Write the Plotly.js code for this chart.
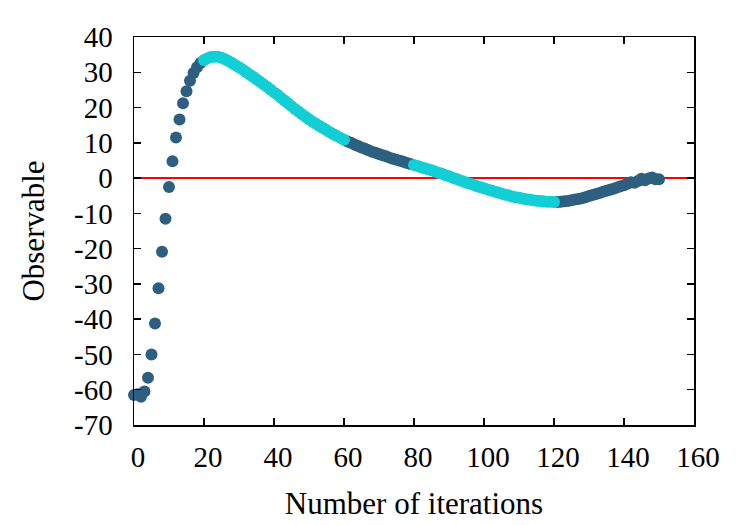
<!DOCTYPE html>
<html>
<head>
<meta charset="utf-8">
<script src="https://cdn.plot.ly/plotly-3.0.1.min.js"></script>
<style>html,body{margin:0;padding:0;background:#fff;}#chart{width:750px;height:525px;}</style>
</head>
<body>
<div id="chart"></div>
<script>
// Observable value, one per iteration 0..150
const observable = [
  -61.5, -61.3, -62.0, -60.5, -56.6, -50.0, -41.2, -31.2, -20.9, -11.5,
  -2.5, 4.8, 11.5, 16.6, 21.2, 24.6, 27.6, 29.8, 31.4, 32.6,
  33.5, 34.0, 34.3, 34.4, 34.4, 34.1, 33.7, 33.2, 32.6, 32.0,
  31.4, 30.8, 30.1, 29.4, 28.7, 28.0, 27.3, 26.6, 25.9, 25.1,
  24.3, 23.6, 22.8, 22.0, 21.2, 20.4, 19.6, 18.9, 18.1, 17.4,
  16.7, 16.0, 15.4, 14.8, 14.2, 13.6, 13.0, 12.4, 11.9, 11.4,
  10.9, 10.4, 10.0, 9.5, 9.1, 8.7, 8.3, 7.9, 7.5, 7.2,
  6.8, 6.5, 6.2, 5.8, 5.5, 5.2, 4.9, 4.6, 4.3, 4.0,
  3.7, 3.4, 3.1, 2.8, 2.5, 2.2, 1.9, 1.5, 1.2, 0.8,
  0.5, 0.1, -0.2, -0.6, -0.9, -1.3, -1.6, -1.9, -2.3, -2.6,
  -2.9, -3.2, -3.5, -3.8, -4.1, -4.4, -4.7, -4.9, -5.2, -5.4,
  -5.6, -5.8, -6.0, -6.1, -6.3, -6.4, -6.5, -6.6, -6.7, -6.7,
  -6.8, -6.8, -6.7, -6.6, -6.5, -6.3, -6.1, -5.9, -5.7, -5.4,
  -5.1, -4.8, -4.5, -4.2, -3.9, -3.6, -3.3, -3.0, -2.7, -2.3,
  -2.0, -1.6, -1.2, -1.3, -0.8, -0.2, -0.6, -0.1, 0.2, -0.3,
  -0.3
];
const iterations = observable.map((_, i) => i);
// phase of each point: 'a' = dark markers, 'b' = light markers
const phase = iterations.map(i => ((i >= 20 && i <= 60) || (i >= 80 && i <= 120)) ? 'b' : 'a');

const xTickVals = [0, 20, 40, 60, 80, 100, 120, 140, 160];
const xTickText = ['0', '20', '40', '60', '80', '100', '120', '140', '160'];
const yTickVals = [-70, -60, -50, -40, -30, -20, -10, 0, 10, 20, 30, 40];
const yTickText = ['-70', '-60', '-50', '-40', '-30', '-20', '-10', '0', '10', '20', '30', '40'];
const refLevel = 0;

const darkColor = '#2e5f80';
const lightColor = '#12ced5';

function pick(p) {
  const xs = [], ys = [];
  iterations.forEach((it, k) => { if (phase[k] === p) { xs.push(it); ys.push(observable[k]); } });
  return {xs, ys};
}
const A = pick('a'), B = pick('b');

const traces = [
  {x: A.xs, y: A.ys, type: 'scatter', mode: 'markers', cliponaxis: false,
   marker: {size: 12, color: darkColor, line: {width: 0}}, hoverinfo: 'skip'},
  {x: B.xs, y: B.ys, type: 'scatter', mode: 'markers', cliponaxis: false,
   marker: {size: 12, color: lightColor, line: {width: 0}}, hoverinfo: 'skip'}
];

const fam = 'Liberation Serif, Times New Roman, serif';
const tickFont = {family: fam, size: 29, color: '#000'};
const titleFont = {family: fam, size: 31, color: '#000'};

const layout = {
  width: 750, height: 525,
  margin: {l: 134, r: 56, t: 37, b: 100},
  paper_bgcolor: '#fff', plot_bgcolor: '#fff',
  showlegend: false,
  font: tickFont,
  xaxis: {
    range: [0, 160], tickvals: xTickVals, ticktext: xTickText,
    ticks: 'inside', ticklen: 7, tickwidth: 1.5, tickcolor: '#000',
    showline: true, linecolor: '#000', linewidth: 1.5, mirror: 'ticks',
    showgrid: false, zeroline: false,
    tickfont: tickFont, ticklabelstandoff: 6, ticklabelshift: 4,
    title: {text: 'Number of iterations', font: titleFont, standoff: 20}
  },
  yaxis: {
    range: [-70, 40], tickvals: yTickVals, ticktext: yTickText,
    ticks: 'inside', ticklen: 7, tickwidth: 1.5, tickcolor: '#000',
    showline: true, linecolor: '#000', linewidth: 1.5, mirror: 'ticks',
    showgrid: false, zeroline: false,
    tickfont: tickFont, ticklabelstandoff: 14,
    title: {text: 'Observable', font: titleFont, standoff: 20}
  },
  shapes: [{type: 'line', xref: 'paper', x0: 0, x1: 1, yref: 'y', y0: refLevel, y1: refLevel,
            line: {color: '#ff0000', width: 2}, layer: 'below'}]
};

Plotly.newPlot('chart', traces, layout, {staticPlot: true, displayModeBar: false});
</script>
</body>
</html>
